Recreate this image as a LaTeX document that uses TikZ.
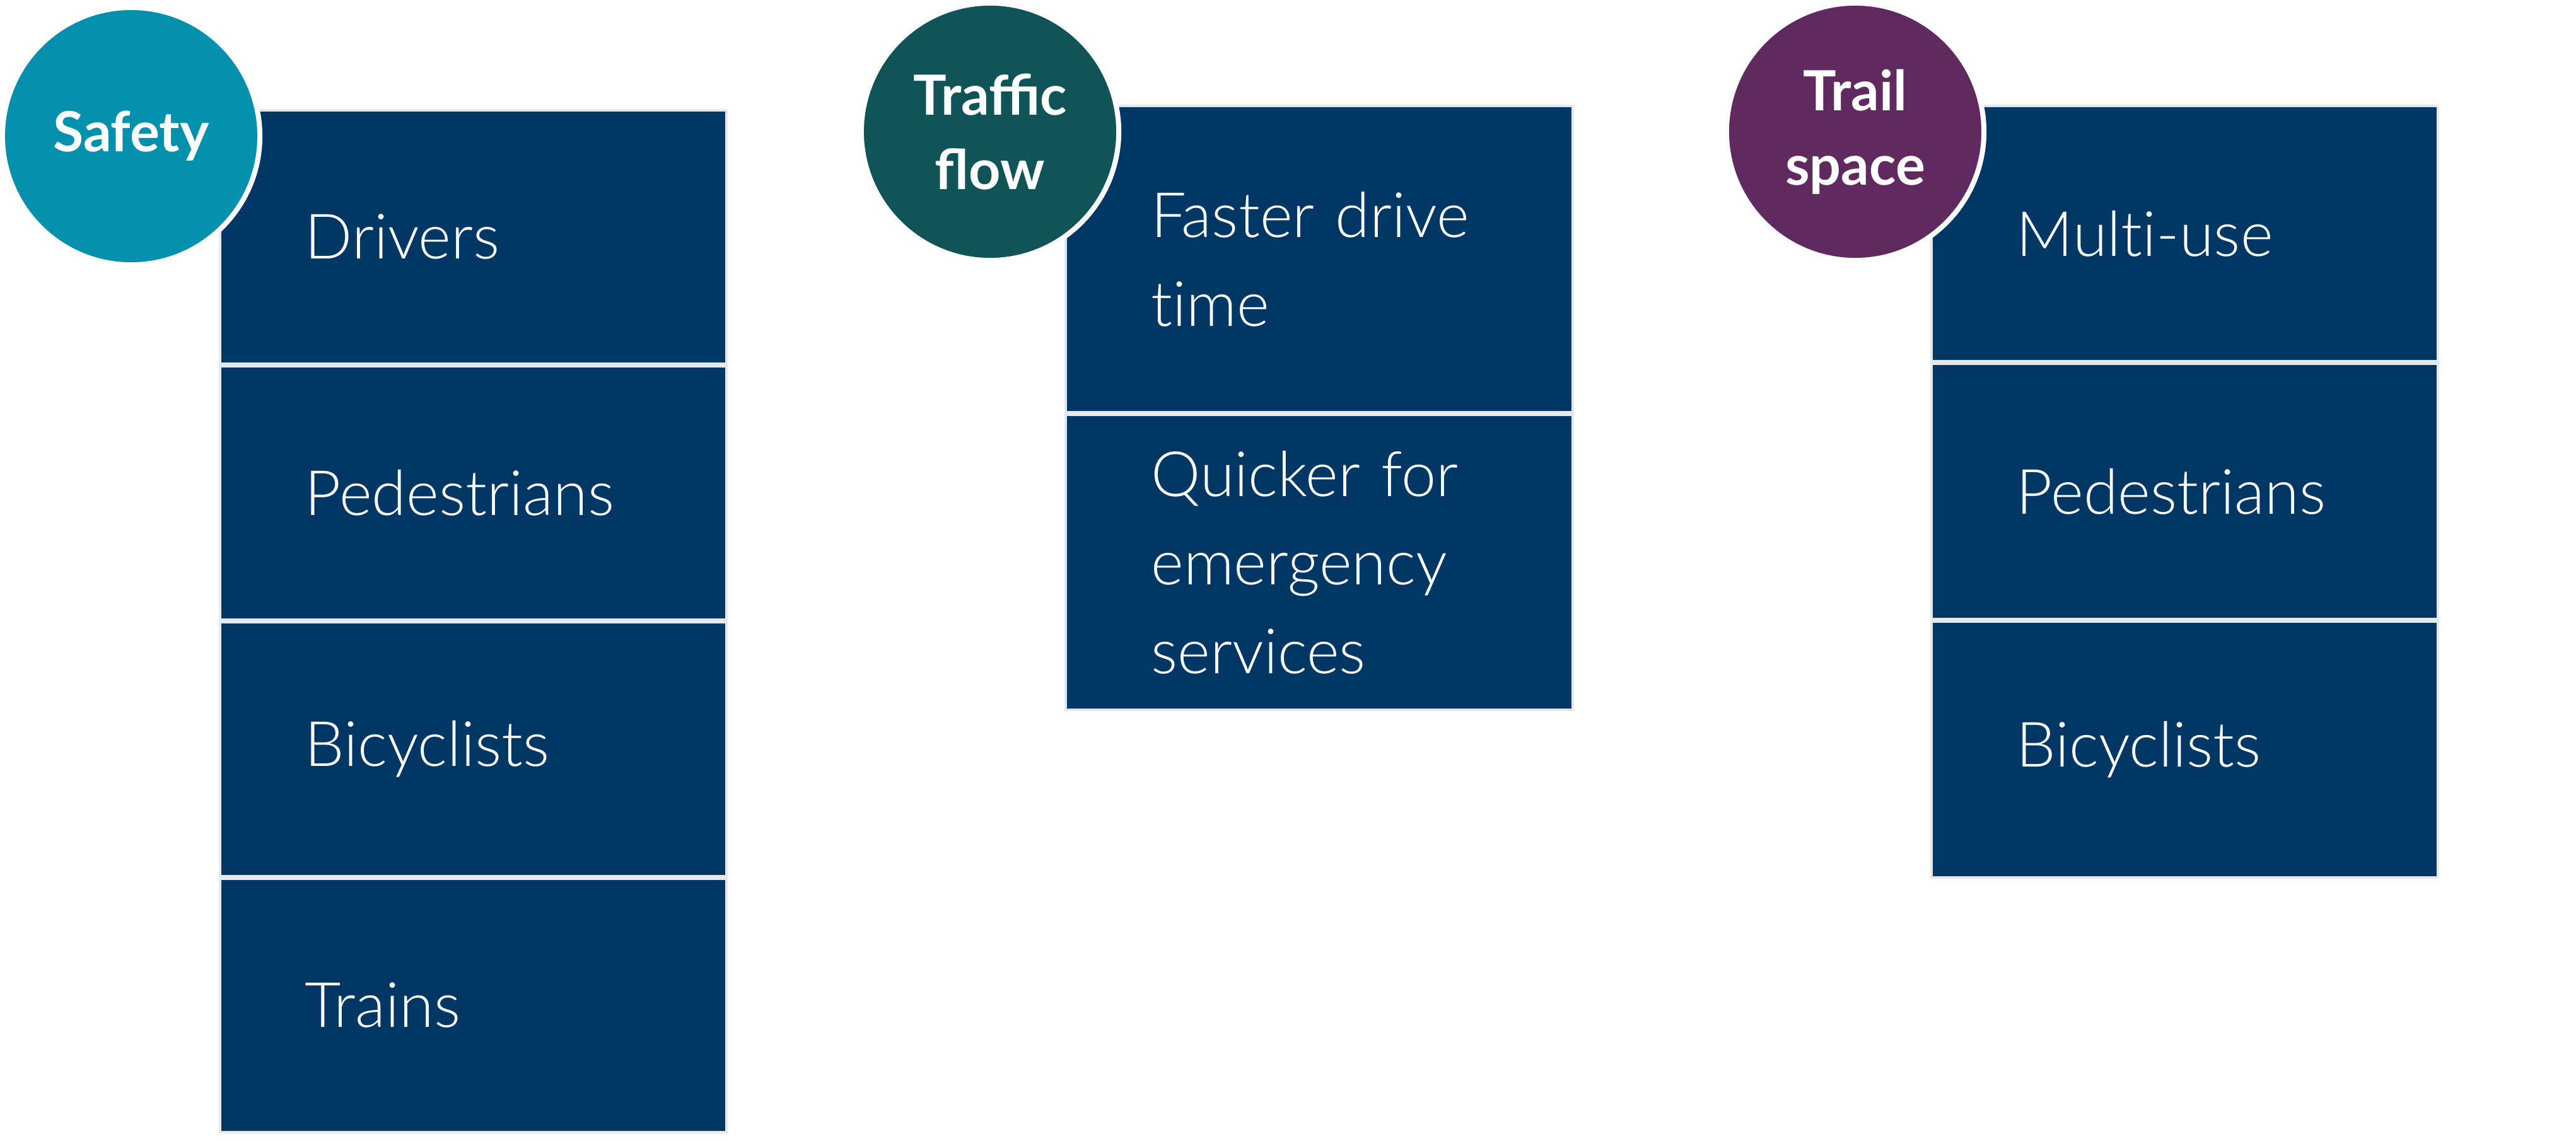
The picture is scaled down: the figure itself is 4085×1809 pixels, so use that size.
\documentclass[tikz,border=0pt]{standalone}
\usepackage{fontspec}
\setmainfont{Lato}
\newfontfamily\thinfont{Lato Light}[Ligatures=NoCommon]
\usetikzlibrary{positioning}
\definecolor{navy}{HTML}{003764}
\definecolor{edge}{HTML}{E4E9EE}
\definecolor{safetyc}{HTML}{0391AD}
\definecolor{trafficc}{HTML}{105457}
\definecolor{trailc}{HTML}{602A60}
\tikzset{topic/.style={shape=circle, minimum size=4.08cm, inner sep=0,
  draw=white, line width=2.28pt, text=white, align=center,
  font=\bfseries\fontsize{25}{33.6}\selectfont},
  item/.style={shape=rectangle, fill=navy, draw=edge, line width=1.14pt,
  minimum width=8.03cm, text width=5.33cm, inner xsep=0, align=left,
  text=white, font=\thinfont\fontsize{28.2}{40}\selectfont}}

\begin{document}
\begin{tikzpicture}[x=0.01cm, y=-0.01cm]
    \useasboundingbox (0,0) rectangle (4085,1809);
    % safety column
    \foreach \txt [count=\i, evaluate={\jj=int(\i-1);}]
    in {Drivers, Pedestrians, Bicyclists, Trains}{
            \ifnum\i=1
                \node [item, minimum height=4.02cm] at (750.5,376) (safe-\i) {\txt};
            \else
                \node [item, minimum height=4.02cm, below=0pt of safe-\jj] (safe-\i) {\txt};
            \fi
        }
    % traffic column
    \node [item, minimum height=4.86cm] at (2092,411) (flow-1) {Faster drive\\time};
    \node [item, minimum height=4.68cm, below=0pt of flow-1] (flow-2)
        {Quicker for\\emergency\\services};
    % trail column
    \foreach \txt [count=\i, evaluate={\jj=int(\i-1);}]
    in {Multi-use, Pedestrians, Bicyclists}{
            \ifnum\i=1
                \node [item, minimum height=4.05cm] at (3464.5,370.5) (trail-\i) {\txt};
            \else
                \node [item, minimum height=4.05cm, below=0pt of trail-\jj] (trail-\i) {\txt};
            \fi
        }
    \node [topic, fill=safetyc] at (208,216) (safety) {Safety};
    \node [topic, fill=trafficc] at (1570,209) (traffic) {Traffic\\flow};
    \node [topic, fill=trailc] at (2942,209) (trail) {Trail\\space};
\end{tikzpicture}
\end{document}
